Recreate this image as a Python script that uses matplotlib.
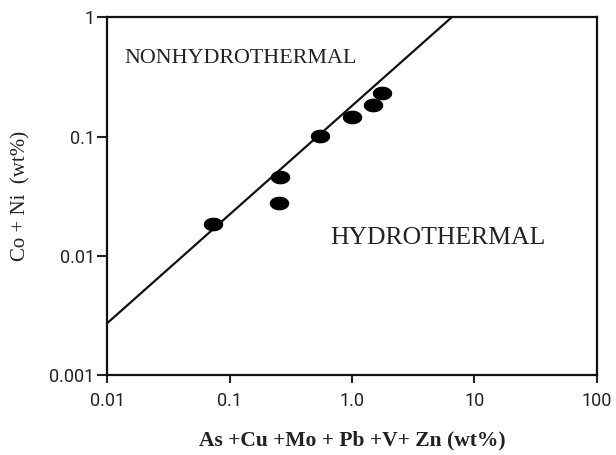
import matplotlib
matplotlib.use("Agg")
import matplotlib.pyplot as plt
import numpy as np
from matplotlib.path import Path

# Data
x_vals = [0.0734, 0.258, 0.253, 0.547, 0.995, 1.476, 1.75]
y_vals = [0.0184, 0.0456, 0.0278, 0.101, 0.147, 0.184, 0.231]
line_x = [0.01, 6.53]
line_y = [0.00272, 1.0]
x_ticks = [0.01, 0.1, 1.0, 10, 100]
x_ticklabels = ["0.01", "0.1", "1.0", "10", "100"]
y_ticks = [0.001, 0.01, 0.1, 1]
y_ticklabels = ["0.001", "0.01", "0.1", "1"]

fig = plt.figure(figsize=(6.16, 4.55), dpi=100)
ax = fig.add_axes([0.174, 0.1758, 0.9687 - 0.174, 0.962 - 0.1758])
ax.set_xscale("log")
ax.set_yscale("log")
ax.set_xlim(0.01, 100)
ax.set_ylim(0.001, 1)

ax.plot(line_x, line_y, color="#111111", lw=1.6, solid_capstyle="butt")

theta = np.linspace(0, 2 * np.pi, 60)
ell = Path(np.column_stack([np.cos(theta), 0.68 * np.sin(theta)]), closed=True)
ax.plot(x_vals, y_vals, linestyle="none", marker=ell, markersize=13,
        color="black", zorder=3)

ax.set_xticks(x_ticks)
ax.set_xticklabels(x_ticklabels)
ax.set_yticks(y_ticks)
ax.set_yticklabels(y_ticklabels)
ax.minorticks_off()
ax.tick_params(axis="x", direction="out", length=6, width=1.5, pad=6,
               labelsize=13, colors="#222222")
ax.tick_params(axis="y", direction="out", length=7, width=1.5, pad=2,
               labelsize=13, colors="#222222")
for lab in ax.get_xticklabels() + ax.get_yticklabels():
    lab.set_fontfamily("Roboto")
    lab.set_fontstretch("condensed")
for s in ax.spines.values():
    s.set_linewidth(1.6)
    s.set_color("#111111")

ax.set_xlabel("As +Cu +Mo + Pb +V+ Zn (wt%)", family="Liberation Serif",
              fontweight="bold", fontsize=15.5, labelpad=15, color="#222222")
ax.set_ylabel("Co + Ni  (wt%)", family="Liberation Serif", fontsize=15,
              labelpad=14, color="#222222")

ax.text(0.0137, 0.45, "NONHYDROTHERMAL", family="Liberation Serif",
        fontsize=15.8, va="center", ha="left", color="#222222")
ax.text(0.66, 0.0141, "HYDROTHERMAL", family="Liberation Serif",
        fontsize=18.5, va="center", ha="left", color="#222222")

fig.savefig("out.png", dpi=100)
